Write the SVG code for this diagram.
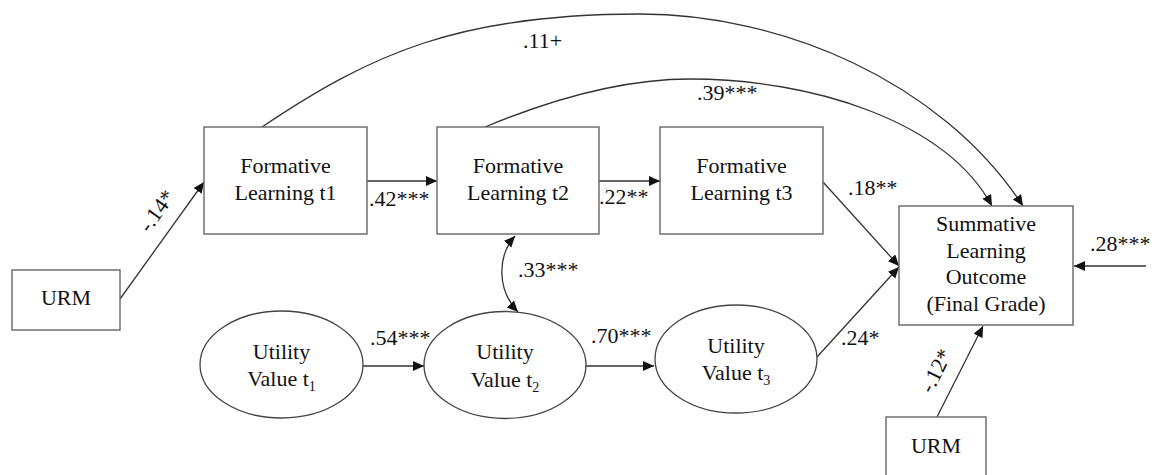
<svg xmlns="http://www.w3.org/2000/svg" width="1152" height="475" viewBox="0 0 1152 475">
<style>
text{font-family:"Liberation Serif","Times New Roman",serif;font-size:22px;fill:#111}
.c{text-anchor:middle}
.box{fill:#fff;stroke:#666;stroke-width:1.4}
.ell{fill:#fff;stroke:#444;stroke-width:1.3}
.ln{fill:none;stroke:#333;stroke-width:1.3}
.sub{font-size:14px}
</style>
<defs>
<marker id="ah" markerUnits="userSpaceOnUse" markerWidth="12" markerHeight="11" refX="11" refY="5" orient="auto-start-reverse">
<path d="M0,0 L11,5 L0,10 z" fill="#111"/>
</marker>
</defs>
<rect width="1152" height="475" fill="#fff"/>
<g id="connectors">
<path class="ln" d="M120,299 L204,182" marker-end="url(#ah)"/>
<path class="ln" d="M367,181 L437,181" marker-end="url(#ah)"/>
<path class="ln" d="M599,181 L660,181" marker-end="url(#ah)"/>
<path class="ln" d="M823,182 L899,266" marker-end="url(#ah)"/>
<path class="ln" d="M817,357 L899,267" marker-end="url(#ah)"/>
<path class="ln" d="M937,417 L983,326" marker-end="url(#ah)"/>
<path class="ln" d="M1146,266 L1074,266" marker-end="url(#ah)"/>
<path class="ln" d="M363,366 L424,366" marker-end="url(#ah)"/>
<path class="ln" d="M586,366 L654,366" marker-end="url(#ah)"/>
<path class="ln" d="M515,236 C497,256 497,290 518,312" marker-start="url(#ah)" marker-end="url(#ah)"/>
<path class="ln" d="M262,127 C372,53 460,14 640,14 C780,14 940,80 1023,206" marker-end="url(#ah)"/>
<path class="ln" d="M485,127 C545,102 620,79 690,79 C810,79 945,120 992,206" marker-end="url(#ah)"/>
<text x="523" y="48">.11+</text>
<text x="697" y="100">.39***</text>
<text x="369" y="206">.42***</text>
<text x="599" y="204">.22**</text>
<text x="848" y="195">.18**</text>
<text x="841" y="345">.24*</text>
<text x="1090" y="251">.28***</text>
<text x="518" y="277">.33***</text>
<text x="370" y="345">.54***</text>
<text x="591" y="343">.70***</text>
<text class="c" transform="translate(157,211) rotate(-54)" y="7">-.14*</text>
<text class="c" transform="translate(936,371) rotate(-63)" y="7">-.12*</text>
</g>
<g id="urm1"><rect class="box" x="12" y="270" width="108" height="60"/><text class="c" x="66" y="305">URM</text></g>
<g id="form1"><rect class="box" x="204" y="127" width="163" height="107"/><text class="c" x="285.5" y="173">Formative</text><text class="c" x="285.5" y="200">Learning t1</text></g>
<g id="form2"><rect class="box" x="437" y="127" width="162" height="107"/><text class="c" x="518" y="173">Formative</text><text class="c" x="518" y="200">Learning t2</text></g>
<g id="form3"><rect class="box" x="660" y="127" width="163" height="107"/><text class="c" x="741.5" y="173">Formative</text><text class="c" x="741.5" y="200">Learning t3</text></g>
<g id="summ"><rect class="box" x="899" y="206" width="174" height="119"/>
<text class="c" x="986" y="231">Summative</text><text class="c" x="986" y="257.5">Learning</text><text class="c" x="986" y="284">Outcome</text><text class="c" x="986" y="310.5">(Final Grade)</text></g>
<g id="urm2"><rect class="box" x="886" y="417" width="100" height="62"/><text class="c" x="936" y="453">URM</text></g>
<g id="uv1"><ellipse class="ell" cx="281.5" cy="364.5" rx="81.5" ry="53.5"/><text class="c" x="281.5" y="358.5">Utility</text><text class="c" x="281.5" y="386">Value t<tspan class="sub" dy="5">1</tspan></text></g>
<g id="uv2"><ellipse class="ell" cx="505" cy="365" rx="81" ry="53.5"/><text class="c" x="505" y="359">Utility</text><text class="c" x="505" y="386.5">Value t<tspan class="sub" dy="5">2</tspan></text></g>
<g id="uv3"><ellipse class="ell" cx="736" cy="359" rx="81" ry="54"/><text class="c" x="736" y="353">Utility</text><text class="c" x="736" y="380">Value t<tspan class="sub" dy="5">3</tspan></text></g>
</svg>
